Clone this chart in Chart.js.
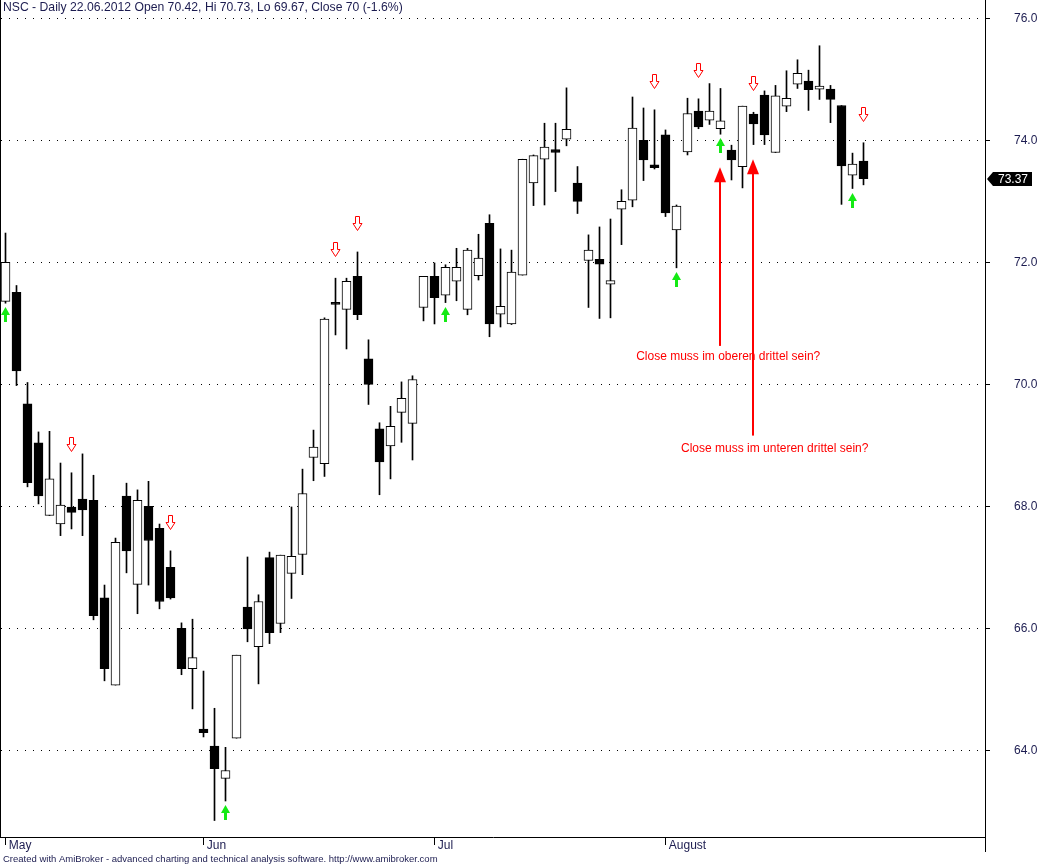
<!DOCTYPE html>
<html>
<head>
<meta charset="utf-8">
<title>NSC - Daily</title>
<script src="https://cdn.jsdelivr.net/npm/chart.js@4.4.1/dist/chart.umd.min.js"></script>
<style>
  html, body { margin: 0; padding: 0; background: #fff; }
  canvas { display: block; }
</style>
</head>
<body>
<canvas id="chartCanvas" width="1046" height="865"></canvas>
<script>
/********** DATA **********/
const dates = [
  '07.05.2012','08.05.2012','09.05.2012','10.05.2012','11.05.2012','14.05.2012','15.05.2012','16.05.2012','17.05.2012',
  '18.05.2012','21.05.2012','22.05.2012','23.05.2012','24.05.2012','25.05.2012','29.05.2012','30.05.2012','31.05.2012',
  '01.06.2012','04.06.2012','05.06.2012','06.06.2012','07.06.2012','08.06.2012','11.06.2012','12.06.2012','13.06.2012',
  '14.06.2012','15.06.2012','18.06.2012','19.06.2012','20.06.2012','21.06.2012','22.06.2012','25.06.2012','26.06.2012',
  '27.06.2012','28.06.2012','29.06.2012',
  '02.07.2012','03.07.2012','05.07.2012','06.07.2012','09.07.2012','10.07.2012','11.07.2012','12.07.2012','13.07.2012',
  '16.07.2012','17.07.2012','18.07.2012','19.07.2012','20.07.2012','23.07.2012','24.07.2012','25.07.2012','26.07.2012',
  '27.07.2012','30.07.2012','31.07.2012',
  '01.08.2012','02.08.2012','03.08.2012','06.08.2012','07.08.2012','08.08.2012','09.08.2012','10.08.2012','13.08.2012',
  '14.08.2012','15.08.2012','16.08.2012','17.08.2012','20.08.2012','21.08.2012','22.08.2012','23.08.2012','24.08.2012',
  '27.08.2012'
];
const opens = [
  71.36, 71.51, 69.68, 69.04, 67.85, 67.71, 67.99, 68.12, 68.10, 66.50, 65.07, 68.17, 66.72, 68.00, 67.64, 67.00, 66.00, 65.34,
  64.35, 64.07, 63.54, 64.20, 66.35, 65.70, 67.16, 66.08, 66.90, 67.21, 68.80, 68.70, 71.33, 71.23, 71.77, 70.42, 69.27, 68.99,
  69.54, 69.36, 71.26,
  71.77, 71.46, 71.69, 71.23, 71.78, 72.64, 71.15, 70.99, 71.79, 73.30, 73.69, 73.85, 74.02, 73.30, 72.03, 72.05, 71.64, 72.87,
  73.02, 74.00, 73.60,
  74.09, 72.53, 73.81, 74.48, 74.33, 74.19, 73.84, 73.57, 74.43, 74.74, 73.80, 74.56, 74.92, 74.97, 74.84, 74.84, 74.57, 73.43,
  73.66
];
const highs = [
  72.48, 71.62, 70.03, 69.22, 69.23, 68.71, 68.55, 68.86, 68.51, 66.71, 67.48, 68.38, 68.27, 68.41, 67.71, 67.27, 66.09, 66.15,
  65.30, 64.69, 64.05, 65.56, 67.17, 66.55, 67.25, 67.20, 67.99, 68.61, 69.25, 71.09, 71.74, 71.74, 72.17, 70.73, 69.37, 69.64,
  70.04, 70.14, 71.77,
  71.99, 71.96, 72.23, 72.23, 72.46, 72.78, 72.22, 72.20, 73.69, 73.76, 74.28, 74.28, 74.86, 73.57, 72.45, 72.58, 72.71, 73.19,
  74.71, 74.53, 74.50,
  74.17, 72.94, 74.69, 74.68, 74.93, 74.85, 73.92, 74.56, 74.46, 74.81, 74.90, 75.14, 75.32, 75.15, 75.55, 74.90, 74.57, 73.79,
  73.96
];
const lows = [
  71.33, 69.98, 68.32, 68.04, 67.85, 67.52, 67.63, 67.52, 66.14, 65.14, 65.07, 66.91, 66.24, 66.71, 66.32, 66.48, 65.24, 64.68,
  64.22, 62.85, 63.17, 64.20, 65.78, 65.09, 65.75, 65.93, 66.49, 66.88, 68.42, 68.49, 70.81, 70.58, 71.06, 69.67, 68.19, 68.45,
  69.05, 68.76, 71.04,
  70.99, 71.34, 71.37, 71.14, 71.71, 70.78, 70.94, 70.98, 71.79, 72.93, 72.94, 73.16, 73.91, 72.80, 71.26, 71.08, 71.09, 72.29,
  72.91, 73.34, 73.53,
  72.75, 71.91, 73.76, 74.19, 74.26, 74.10, 73.35, 73.22, 73.93, 73.93, 73.80, 74.47, 74.85, 74.49, 74.67, 74.29, 72.95, 73.21,
  73.27
];
const closes = [
  72.00, 70.22, 68.39, 68.17, 68.45, 68.02, 67.90, 67.94, 66.21, 65.34, 67.41, 67.27, 68.10, 67.44, 66.44, 66.50, 65.34, 65.52,
  64.29, 63.70, 63.67, 65.56, 65.99, 66.44, 65.93, 67.20, 67.18, 68.21, 68.97, 71.07, 71.31, 71.69, 71.14, 70.00, 68.73, 69.31,
  69.77, 70.08, 71.77,
  71.42, 71.92, 71.92, 72.20, 72.07, 70.99, 71.28, 71.84, 73.69, 73.75, 73.89, 73.80, 74.18, 73.00, 72.20, 71.97, 71.70, 73.00,
  74.20, 73.68, 73.55,
  72.81, 72.92, 74.44, 74.22, 74.48, 74.32, 73.68, 74.56, 74.27, 74.09, 74.73, 74.69, 75.10, 74.83, 74.89, 74.67, 73.58, 73.61,
  73.37
];
const monthNames = ['May', 'Jun', 'Jul', 'August'];
const priceTicks = [64, 66, 68, 70, 72, 74, 76];
const buySignals = [0, 20, 40, 61, 65, 77];
const sellSignals = [6, 15, 30, 32, 59, 63, 68, 78];
const symbol = 'NSC';
const headerDate = '22.06.2012';

/********** ANNOTATIONS (drawn by hand on the original) **********/
const notes = [
  { bar: 65, tip: 73.56, tail: 70.63, textBar: 65.7, textPrice: 70.45, text: 'Close muss im oberen drittel sein?' },
  { bar: 68, tip: 73.69, tail: 69.16, textBar: 69.93, textPrice: 68.94, text: 'Close muss im unteren drittel sein?' }
];

// first bar of every month -> x axis ticks
const monthStarts = [];
dates.forEach((d, i) => {
  if (i === 0 || d.slice(3, 5) !== dates[i - 1].slice(3, 5)) monthStarts.push(i);
});

const FONT = '"Liberation Sans", Arial, sans-serif';
const TEXT_COLOR = '#1c1c50';

/********** EXTRA DRAWING: signals, notes, header, price label **********/
const extrasPlugin = {
  id: 'extras',
  afterDatasetsDraw(chart) {
    const ctx = chart.ctx;
    const xs = chart.scales.x, ys = chart.scales.y;
    ctx.save();

    // green buy arrows under the low
    ctx.fillStyle = '#14ea14';
    buySignals.forEach(i => {
      const cx = xs.getPixelForValue(i);
      const ly = Math.round(ys.getPixelForValue(lows[i]));
      ctx.beginPath();
      ctx.moveTo(cx, ly + 4);
      ctx.lineTo(cx + 4.5, ly + 12);
      ctx.lineTo(cx + 1.5, ly + 12);
      ctx.lineTo(cx + 1.5, ly + 19);
      ctx.lineTo(cx - 1.5, ly + 19);
      ctx.lineTo(cx - 1.5, ly + 12);
      ctx.lineTo(cx - 4.5, ly + 12);
      ctx.closePath();
      ctx.fill();
    });

    // red hollow sell arrows above the high
    ctx.strokeStyle = '#ff0000';
    ctx.lineWidth = 1;
    sellSignals.forEach(i => {
      const cx = xs.getPixelForValue(i);
      const hy = Math.round(ys.getPixelForValue(highs[i])) + 0.5;
      ctx.beginPath();
      ctx.moveTo(cx - 2, hy - 36);
      ctx.lineTo(cx + 2, hy - 36);
      ctx.lineTo(cx + 2, hy - 29);
      ctx.lineTo(cx + 4.5, hy - 29);
      ctx.lineTo(cx, hy - 22);
      ctx.lineTo(cx - 4.5, hy - 29);
      ctx.lineTo(cx - 2, hy - 29);
      ctx.closePath();
      ctx.stroke();
    });

    // hand-drawn red arrows and questions
    ctx.fillStyle = '#ff0000';
    notes.forEach(n => {
      const cx = Math.floor(xs.getPixelForValue(n.bar));
      const tipY = ys.getPixelForValue(n.tip);
      const tailY = ys.getPixelForValue(n.tail);
      ctx.fillRect(cx - 1, tipY + 14, 2, tailY - tipY - 14);
      ctx.beginPath();
      ctx.moveTo(cx, tipY);
      ctx.lineTo(cx + 6, tipY + 15);
      ctx.lineTo(cx - 6, tipY + 15);
      ctx.closePath();
      ctx.fill();
    });
    ctx.font = '12px ' + FONT;
    ctx.textAlign = 'center';
    ctx.textBaseline = 'middle';
    notes.forEach(n => {
      ctx.fillText(n.text, xs.getPixelForValue(n.textBar), ys.getPixelForValue(n.textPrice));
    });
    ctx.restore();
  },
  afterDraw(chart) {
    const ctx = chart.ctx;
    const area = chart.chartArea;
    const ys = chart.scales.y;
    ctx.save();

    // left frame line and the right border running past the axis
    ctx.fillStyle = '#000';
    ctx.fillRect(area.left - 1, 0, 1, area.bottom + 1);
    ctx.fillRect(area.right, area.bottom, 1, 15);

    // header
    const k = dates.indexOf(headerDate);
    const chg = (closes[k] / closes[k - 1] - 1) * 100;
    const header = symbol + ' - Daily ' + headerDate + ' Open ' + opens[k] + ', Hi ' + highs[k] +
      ', Lo ' + lows[k] + ', Close ' + closes[k] + ' (' + chg.toFixed(1) + '%)';
    ctx.fillStyle = TEXT_COLOR;
    ctx.font = '12.2px ' + FONT;
    ctx.textAlign = 'left';
    ctx.textBaseline = 'alphabetic';
    ctx.fillText(header, 3, 11);

    // footer
    ctx.font = '9.5px ' + FONT;
    ctx.fillText('Created with AmiBroker - advanced charting and technical analysis software. http://www.amibroker.com', 3, 862);

    // last close marker on the price axis
    const last = closes[closes.length - 1];
    const py = Math.round(ys.getPixelForValue(last));
    const bx = area.right + 2;
    ctx.fillStyle = '#000';
    ctx.beginPath();
    ctx.moveTo(bx, py);
    ctx.lineTo(bx + 6, py - 7);
    ctx.lineTo(bx + 45, py - 7);
    ctx.lineTo(bx + 45, py + 7);
    ctx.lineTo(bx + 6, py + 7);
    ctx.closePath();
    ctx.fill();
    ctx.fillStyle = '#fff';
    ctx.font = '12px ' + FONT;
    ctx.textBaseline = 'middle';
    ctx.fillText(last.toFixed(2), bx + 11, py + 0.5);
    ctx.restore();
  }
};

/********** CHART.JS SETUP **********/
const bodies = dates.map((d, i) => ({ x: i, y: [opens[i], closes[i]] }));
const wicks = dates.map((d, i) => ({ x: i, y: [lows[i], highs[i]] }));
const bodyColors = dates.map((d, i) => closes[i] >= opens[i] ? '#ffffff' : '#000000');

const ctx = document.getElementById('chartCanvas').getContext('2d');
new Chart(ctx, {
  type: 'bar',
  data: {
    datasets: [
      {
        label: 'Body',
        data: bodies,
        backgroundColor: bodyColors,
        borderColor: '#000',
        borderWidth: 1,
        borderSkipped: false,
        barThickness: 9,
        minBarLength: 2,
        grouped: false
      },
      {
        label: 'Wick',
        data: wicks,
        backgroundColor: '#000',
        borderWidth: 0,
        barThickness: 1,
        grouped: false
      }
    ]
  },
  options: {
    responsive: false,
    devicePixelRatio: 1,
    animation: false,
    layout: { padding: { left: 1, top: 0, right: 0, bottom: 0 } },
    plugins: {
      legend: { display: false },
      tooltip: { enabled: false },
      title: { display: false }
    },
    scales: {
      x: {
        type: 'linear',
        offset: false,
        min: -4.5 / 11,
        max: -4.5 / 11 + 984 / 11,
        afterBuildTicks: scale => { scale.ticks = monthStarts.map(v => ({ value: v })); },
        afterFit: scale => {
          scale.height = 28;
          scale.paddingLeft = 0;
          scale.paddingRight = 0;
        },
        grid: { offset: false, drawOnChartArea: false, drawTicks: true, tickLength: 8, color: '#000' },
        border: { display: true, color: '#000', width: 1 },
        ticks: {
          autoSkip: false,
          maxRotation: 0,
          align: 'start',
          padding: -7,
          color: TEXT_COLOR,
          font: { family: FONT, size: 12 },
          callback: (v) => ' ' + monthNames[monthStarts.indexOf(v)]
        }
      },
      y: {
        type: 'linear',
        position: 'right',
        min: 62.58,
        max: 76.30,
        afterBuildTicks: scale => { scale.ticks = priceTicks.map(v => ({ value: v })); },
        afterFit: scale => {
          scale.width = 61;
          scale.paddingTop = 0;
          scale.paddingBottom = 0;
        },
        grid: { color: '#000', lineWidth: 1, drawTicks: true, tickLength: 5 },
        border: { display: true, color: '#000', width: 1, dash: [1, 7] },
        ticks: {
          padding: 24,
          color: TEXT_COLOR,
          font: { family: FONT, size: 12 },
          callback: v => v.toFixed(1)
        }
      }
    }
  },
  plugins: [extrasPlugin]
});
</script>
</body>
</html>
